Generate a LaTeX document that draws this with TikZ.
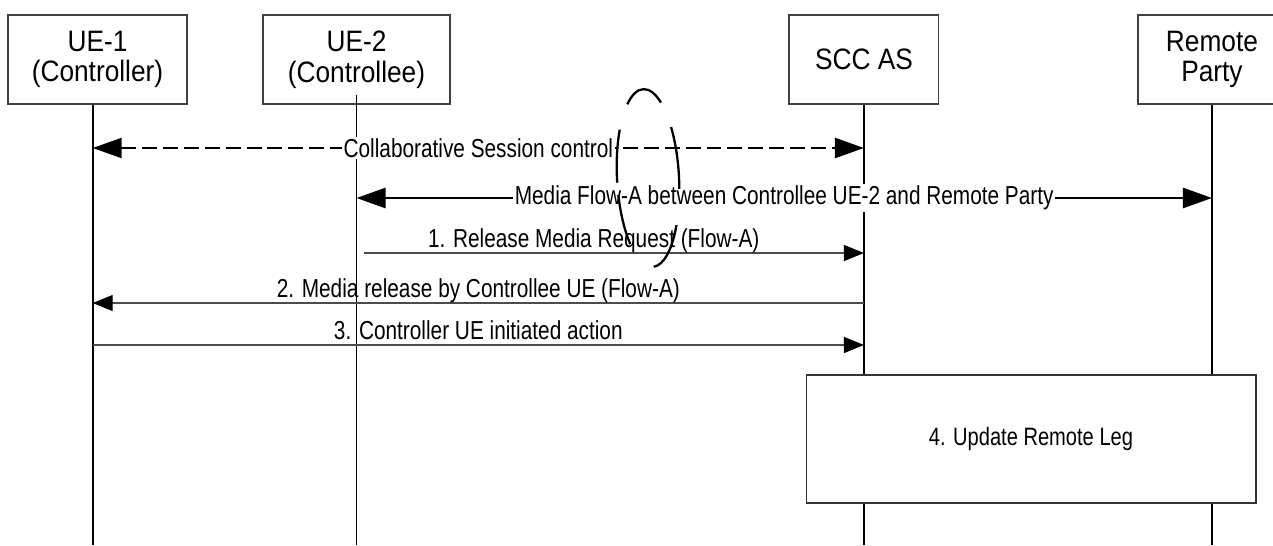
\documentclass[tikz,border=0pt]{standalone}
\usepackage{fontspec}
\setmainfont{Liberation Sans}
\newfontfamily\boxfont[FakeStretch=0.89]{Liberation Sans}
\newfontfamily\msgfont[FakeStretch=0.8]{Liberation Sans}
\usetikzlibrary{arrows.meta,positioning}

\begin{document}
\begin{tikzpicture}[
        x=0.02cm, y=-0.02cm,
        entity/.style={rectangle, draw=black!75, line width=0.6pt, fill=white,
                       align=center, minimum height=1.78cm, inner sep=2pt,
                       font=\boxfont\fontsize{16.8}{17.5}\selectfont},
        actbox/.style={rectangle, draw=black!80, line width=0.6pt, fill=white,
                       minimum width=9cm, minimum height=2.56cm,
                       font=\msgfont\fontsize{14.3}{15}\selectfont},
        life/.style={line width=1.1pt},
        lifethin/.style={line width=0.7pt},
        ctl/.style={{Triangle[length=0.58cm, width=0.4cm]}-{Triangle[length=0.58cm, width=0.4cm]},
                    line width=1.3pt, dash pattern=on 8.5pt off 3.4pt},
        flow/.style={{Triangle[length=0.58cm, width=0.4cm]}-{Triangle[length=0.58cm, width=0.4cm]},
                     line width=1.5pt},
        msg/.style={-{Triangle[length=0.4cm, width=0.32cm, color=black]},
                    draw=black!70, line width=0.6pt},
        lbl/.style={anchor=base, yshift=3pt, inner sep=1pt,
                    font=\msgfont\fontsize{14.8}{15}\selectfont},
        lblw/.style={fill=white, inner sep=1pt,
                     font=\msgfont\fontsize{14.8}{15}\selectfont}
    ]
        \useasboundingbox (0,0) rectangle (1273,545);

        %--- Entities ---
        \node[entity, minimum width=3.58cm] (ue1) at (97.5,59.5) {UE-1\\(Controller)};
        \node[entity, minimum width=3.74cm, right=1.5cm of ue1] (ue2) {UE-2\\(Controllee)};
        \node[entity, minimum width=3cm, right=6.76cm of ue2] (scc) {SCC AS};
        \node[entity, minimum width=2.96cm, right=3.96cm of scc] (rp) {Remote\\Party};

        %--- Lifelines ---
        \coordinate (bot) at (0,545);
        \coordinate (l1) at ([xshift=-0.096cm]ue1.south);
        \draw[life] (l1) -- (l1 |- bot);
        \draw[lifethin] ([yshift=0.2cm]ue2.south) -- (ue2.south |- bot);
        \draw[lifethin] (scc.south) -- (scc.south |- bot);
        \draw[life] (rp.south) -- (rp.south |- bot);

        %--- Message rows ---
        \coordinate (r0) at (0,148);
        \coordinate (r1) at (0,198);
        \coordinate (r2) at (0,253);
        \coordinate (r3) at (0,303);
        \coordinate (r4) at (0,345);

        \draw[ctl] (l1 |- r0) -- node[lblw] {Collaborative Session control} (scc |- r0);
        \draw[flow] (ue2 |- r1) -- node[lblw] {Media Flow-A between Controllee UE-2 and Remote Party} (rp |- r1);
        \draw[msg] ([xshift=0.14cm]ue2 |- r2) -- node[lbl, pos=.46] {1. Release Media Request (Flow-A)} (scc |- r2);
        \draw[msg] (scc |- r3) -- node[lbl] {2. Media release by Controllee UE (Flow-A)} (l1 |- r3);
        \draw[msg] (l1 |- r4) -- node[lbl] {3. Controller UE initiated action} (scc |- r4);

        %--- Step 4 ---
        \node[actbox] (upd) at (1031,439) {4. Update Remote Leg};

        %--- Broken ellipse ---
        \begin{scope}[shift={(648,178)}, rotate=3, line width=1.3pt]
            \draw (57:0.62cm and 1.78cm) arc[start angle=57, end angle=123, x radius=0.62cm, y radius=1.78cm];
            \draw (-8:0.62cm and 1.78cm) arc[start angle=-8, end angle=34, x radius=0.62cm, y radius=1.78cm];
            \draw (146:0.62cm and 1.78cm) arc[start angle=146, end angle=182, x radius=0.62cm, y radius=1.78cm];
            \draw (190:0.62cm and 1.78cm) arc[start angle=190, end angle=227, x radius=0.62cm, y radius=1.78cm];
            \draw (272:0.62cm and 1.78cm) arc[start angle=272, end angle=327, x radius=0.62cm, y radius=1.78cm];
        \end{scope}
    \end{tikzpicture}
\end{document}
